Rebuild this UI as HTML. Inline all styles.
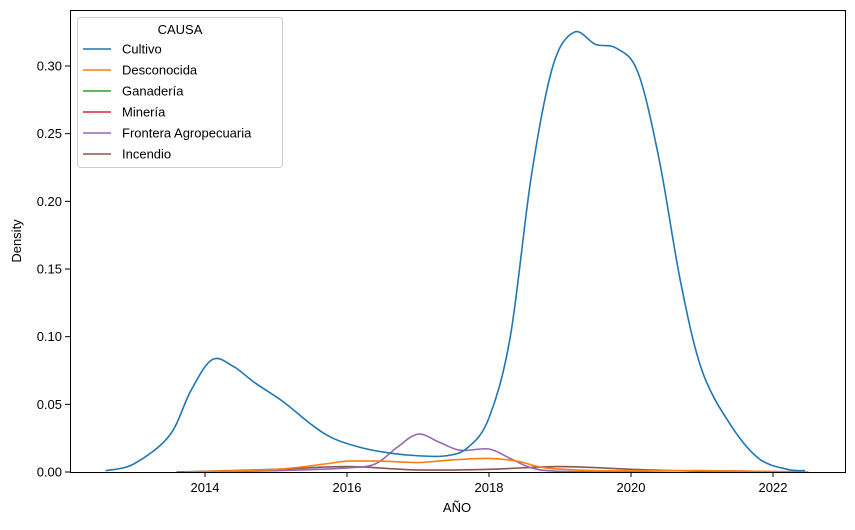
<!DOCTYPE html>
<html><head><meta charset="utf-8"><style>
body{margin:0;background:#fff;}
svg{font-family:"Liberation Sans","DejaVu Sans",sans-serif;}
</style></head><body>
<svg id="chart" width="855" height="525" viewBox="0 0 855 525">
<rect x="0" y="0" width="855" height="525" fill="#fff"/>
<g id="series"></g>
<rect x="70.5" y="10.5" width="775" height="462" fill="none" stroke="#000" stroke-width="1"/>
<g id="xaxis"></g>
<g id="yaxis"></g>
<text x="457" y="512" text-anchor="middle" font-size="13">AÑO</text>
<text transform="translate(21,241) rotate(-90)" text-anchor="middle" font-size="13">Density</text>
<g id="legend">
<rect x="77.5" y="17.5" width="205" height="150" rx="3" fill="#fff" fill-opacity="0.8" stroke="#ccc"/>
<text x="180" y="34" text-anchor="middle" font-size="13">CAUSA</text>
</g>
</svg>
<script>
const categories = ["Cultivo","Desconocida","Ganadería","Minería","Frontera Agropecuaria","Incendio"];
const colors = ["#1f77b4","#ff7f0e","#2ca02c","#d62728","#9467bd","#8c564b"];
const cultivoX = [2012.6,2013,2013.5,2013.8,2014.1,2014.4,2014.7,2015.1,2015.5,2015.8,2016.2,2016.6,2017,2017.4,2017.7,2018,2018.3,2018.6,2018.9,2019.2,2019.5,2019.8,2020.1,2020.4,2020.7,2021,2021.4,2021.8,2022.2,2022.45];
const cultivoY = [0.001,0.006,0.027,0.06,0.083,0.078,0.066,0.052,0.035,0.025,0.018,0.014,0.012,0.012,0.018,0.04,0.1,0.22,0.3,0.325,0.316,0.313,0.295,0.23,0.14,0.075,0.035,0.01,0.002,0.001];
const desconX = [2013.7,2015,2015.7,2016,2016.5,2017,2017.5,2018,2018.4,2018.8,2019.5,2020,2021,2022.5];
const desconY = [0,0.002,0.006,0.008,0.008,0.007,0.009,0.010,0.008,0.003,0.001,0.001,0.001,0];
const fronteraX = [2013.7,2015,2016,2016.4,2016.7,2017,2017.3,2017.6,2018,2018.3,2018.6,2019,2020,2021,2022.3];
const fronteraY = [0,0.001,0.003,0.006,0.018,0.028,0.022,0.016,0.017,0.01,0.003,0.0005,0.0005,0.001,0];
const incendioX = [2013.6,2015,2016,2017,2018,2019,2020,2021,2022];
const incendioY = [0,0.002,0.004,0.0015,0.002,0.004,0.002,0.0005,0];
const xTicks = [2014,2016,2018,2020,2022];
const yTicks = [0,0.05,0.10,0.15,0.20,0.25,0.30];
const yTickLabels = ["0.00","0.05","0.10","0.15","0.20","0.25","0.30"];

const NS="http://www.w3.org/2000/svg";
function xs(v){return 205+(v-2014)*71;}
function ys(v){return 472-v*(406/0.30);}
function mk(tag,attrs,parent){const e=document.createElementNS(NS,tag);for(const k in attrs)e.setAttribute(k,attrs[k]);parent.appendChild(e);return e;}
function pathD(X,Y){
  const p=X.map((x,i)=>[xs(x),ys(Y[i])]);
  let d="M"+p[0][0]+","+p[0][1];
  for(let i=0;i<p.length-1;i++){
    const p0=p[i-1]||p[i],p1=p[i],p2=p[i+1],p3=p[i+2]||p2;
    const c1=[p1[0]+(p2[0]-p0[0])/6,p1[1]+(p2[1]-p0[1])/6];
    const c2=[p2[0]-(p3[0]-p1[0])/6,p2[1]-(p3[1]-p1[1])/6];
    d+=" C"+c1+" "+c2+" "+p2;
  }
  return d;
}
const sg=document.getElementById("series");
const seriesList=[[incendioX,incendioY,5,"incendio-curve"],[fronteraX,fronteraY,4,"frontera-curve"],[desconX,desconY,1,"desconocida-curve"],[cultivoX,cultivoY,0,"cultivo-curve"]];
seriesList.forEach(s=>{
  const p=mk("path",{d:pathD(s[0],s[1]),fill:"none",stroke:colors[s[2]],"stroke-width":1.6},sg);
  
  
});
const xg=document.getElementById("xaxis");
xTicks.forEach(t=>{
  const l=mk("line",{x1:xs(t),x2:xs(t),y1:472,y2:477,stroke:"#000"},xg);
  
  
  const tx=mk("text",{x:xs(t),y:492,"text-anchor":"middle","font-size":13},xg);
  tx.textContent=t;
  
  
});
const yg=document.getElementById("yaxis");
yTicks.forEach((t,i)=>{
  const l=mk("line",{x1:65,x2:70,y1:ys(t),y2:ys(t),stroke:"#000"},yg);
  
  
  const tx=mk("text",{x:62,y:ys(t)+4.5,"text-anchor":"end","font-size":13},yg);
  tx.textContent=yTickLabels[i];
  
  
});
const lg=document.getElementById("legend");
categories.forEach((c,i)=>{
  const y=49+i*21;
  const l=mk("line",{x1:83,x2:111,y1:y,y2:y,stroke:colors[i],"stroke-width":1.6},lg);
  
  
  const tx=mk("text",{x:122,y:y+4.5,"font-size":13},lg);
  tx.textContent=c;
  
  
});
</script>
</body></html>
